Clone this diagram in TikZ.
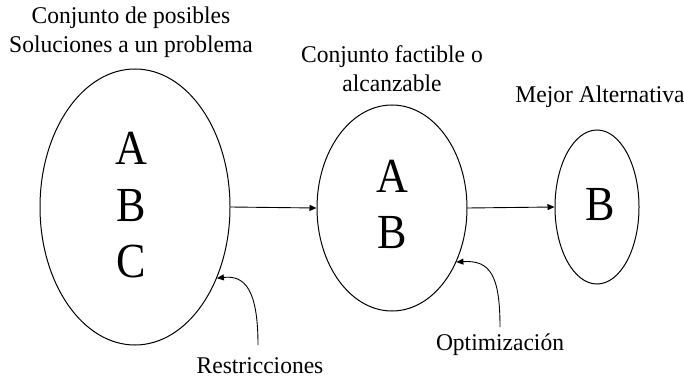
\documentclass[tikz,border=0pt]{standalone}
\usepackage{fontspec}
\setmainfont{Liberation Serif}
\usetikzlibrary{arrows.meta,shapes.geometric}
\begin{document}
\begin{tikzpicture}[x=1pt,y=-1pt,
  set/.style={draw,line width=1pt,ellipse,inner sep=0pt},
  lbl/.style={font=\fontsize{24}{29}\selectfont,xscale=0.98,align=center},
  big/.style={font=\fontsize{49}{56}\selectfont,xscale=0.9,anchor=base,inner sep=0pt},
  arr/.style={-{Triangle[length=7pt,width=6pt]},line width=0.9pt}]
\useasboundingbox (0,0) rectangle (684,379);
\node[set,minimum width=190pt,minimum height=276pt] (e1) at (135,207) {};
\node[set,minimum width=150pt,minimum height=206pt] (e2) at (392,208) {};
\node[set,minimum width=84pt,minimum height=154pt] (e3) at (597,207) {};
\node[big] (a1) at (131,165) {A};
\node[big] (b1) at (131,222) {B};
\node[big] (c1) at (131,277) {C};
\node[big] (a2) at (392,193) {A};
\node[big] (b2) at (392,248) {B};
\node[big] (b3) at (600,220) {B};
\node[lbl] (t1) at (131,32) {Conjunto de posibles\\Soluciones a un problema};
\node[lbl] (t2) at (392,69) {Conjunto factible o\\alcanzable};
\node[lbl] (t3) at (600,97) {Mejor Alternativa};
\node[lbl] (r) at (260,366) {Restricciones};
\node[lbl] (o) at (500,345) {Optimización};
\coordinate (rs) at (258,345);
\coordinate (os) at (500,327);
\draw[arr] (e1.east) -- (e2.west);
\draw[arr] (e2.east) -- (e3.west);
\draw[arr] (rs) .. controls (258,290) and (245,275) .. (e1.-41);
\draw[arr] (os) .. controls (500,275) and (490,260) .. (e2.-40);
\end{tikzpicture}
\end{document}
